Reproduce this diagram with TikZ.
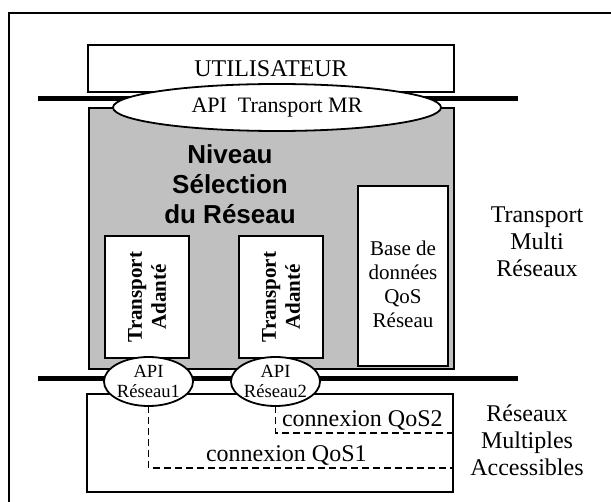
\documentclass[tikz,border=0pt]{standalone}
\usepackage{fontspec}
\setmainfont{Liberation Serif}
\setsansfont{Liberation Sans}
\usetikzlibrary{shapes.geometric}

\definecolor{niveaugray}{RGB}{192,192,192}

\begin{document}
\begin{tikzpicture}[x=0.5pt, y=-0.5pt,
  every node/.style={inner sep=0pt, outer sep=0pt},
  box/.style={draw, line width=1pt, fill=white, rectangle},
  api/.style={draw, line width=0.9pt, fill=white, ellipse},
  bar/.style={line width=2.5pt},
  qos/.style={line width=0.7pt, dash pattern=on 3.5pt off 2pt},
  txt/.style={font=\fontsize{12}{13.5}\selectfont, align=center}]
\useasboundingbox (0,0) rectangle (611,502);

% Draw the outer frame
\coordinate (frame-ne) at (611,13);
\coordinate (frame-nw) at (9,13);
\coordinate (frame-sw) at (9,502);
\draw [line width=0.8pt] (frame-ne) -- (frame-nw) -- (frame-sw);

% Draw user box
\node [box, minimum width=183pt, minimum height=23.5pt,
  font=\fontsize{12}{14}\selectfont] (user) at (271,68.5) {UTILISATEUR};

% Bar end points
\foreach \n/\y in {top/99, bottom/379} {
  \coordinate (bar-\n-w) at (38,\y);
  \coordinate (bar-\n-e) at (518,\y);
}
\draw [bar] (bar-top-w) -- (bar-top-e);

% Draw selection layer
\node [draw, line width=0.8pt, fill=niveaugray, minimum width=182.5pt,
  minimum height=130.5pt] (niveau) at (271.5,238.5) {};
\node [api, minimum width=164pt, minimum height=23.5pt,
  font=\fontsize{11}{13}\selectfont] (api-mr) at (277,107.5) {API\ \ Transport MR};
\node [font=\sffamily\bfseries\fontsize{13}{15}\selectfont, align=center]
  (niveau-lbl) at (230,184.5) {Niveau\\Sélection\\du Réseau};

% Draw adapted transport boxes
\foreach \i/\x in {1/147, 2/281}
  \node [box, rotate=90, minimum width=61pt, minimum height=42pt, align=center,
    font=\bfseries\fontsize{10.5}{12}\selectfont] (adapt-\i) at (\x,297) {Transport\\Adanté};

% QoS data base
\node [box, minimum width=45pt, minimum height=90pt] (base-qos) at (403,276) {};
\node [font=\fontsize{10.5}{12}\selectfont, align=center]
  (base-lbl) at (403,284) {Base de\\données\\QoS\\Réseau};

% Draw network layer
\draw [bar] (bar-bottom-w) -- (bar-bottom-e);
\node [box, minimum width=183pt, minimum height=49pt] (reseaux) at (270,443) {};
\foreach \i/\x in {1/148.5, 2/275.5}
  \node [api, minimum width=41.5pt, minimum height=24.5pt, align=center,
    font=\fontsize{9.3}{10}\selectfont] (api-\i) at (\x,381.5) {API\\Réseau\i};

% Connexions
\coordinate (qos1-end) at (453,468);
\coordinate (qos2-end) at (453,433);
\draw [qos] (api-1.south) |- (qos1-end);
\draw [qos] (api-2.south) |- (qos2-end);
\node [txt, anchor=base west] (qos2-lbl) at (282,427) {connexion QoS2};
\node [txt, anchor=base west] (qos1-lbl) at (206,462) {connexion QoS1};

% Annotate the layers
\node [txt] (tmr-lbl) at (537,242) {Transport\\Multi\\Réseaux};
\node [txt] (rma-lbl) at (527,440) {Réseaux\\Multiples\\Accessibles};
\end{tikzpicture}
\end{document}
